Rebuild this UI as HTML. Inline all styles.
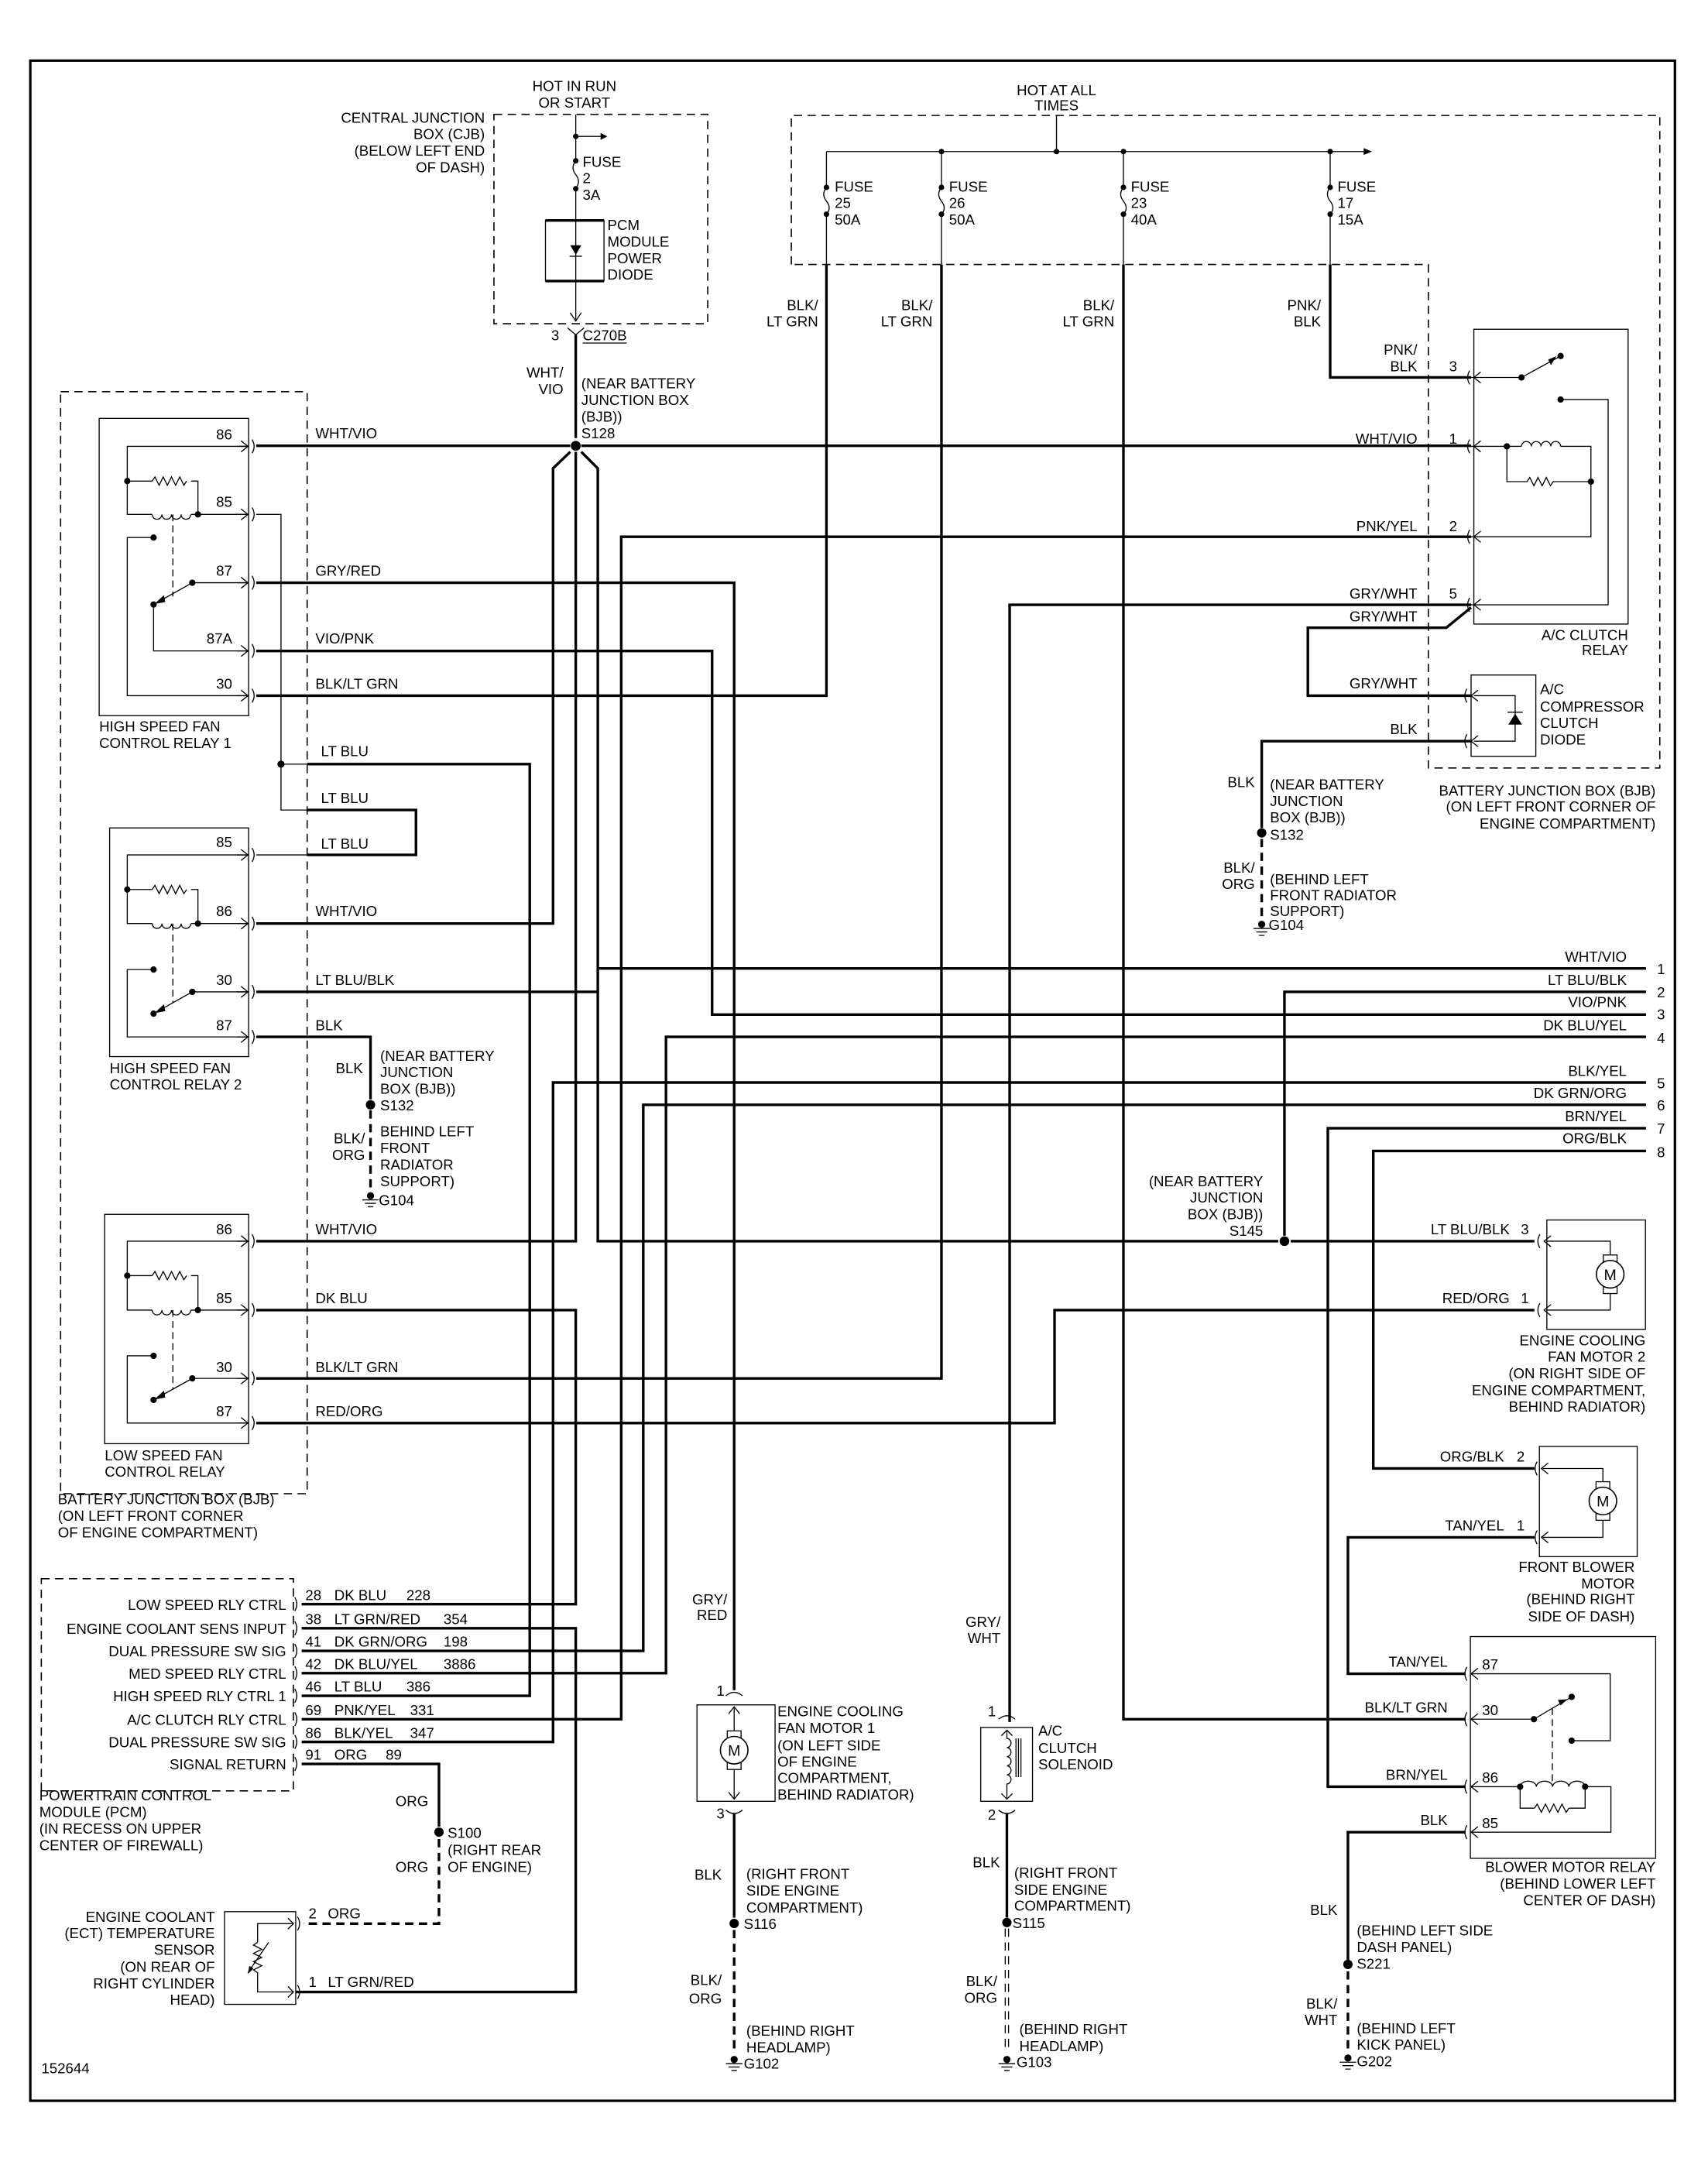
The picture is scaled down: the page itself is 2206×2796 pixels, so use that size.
<!DOCTYPE html>
<html><head><meta charset="utf-8"><style>
html,body{margin:0;padding:0;background:#fff}
svg{display:block}
text{font-family:"Liberation Sans",Arial,sans-serif;font-size:10.5px;fill:#000}
.e{text-anchor:end}.m{text-anchor:middle}
.k{fill:none;stroke:#000;stroke-width:1.9}
.n{fill:none;stroke:#000;stroke-width:0.75}
.d{fill:none;stroke:#000;stroke-width:0.9;stroke-dasharray:6,4}
.dk{fill:none;stroke:#000;stroke-width:1.9;stroke-dasharray:6,4}
.f{fill:#000}
</style></head><body>
<svg width="2206" height="2796" viewBox="0 0 1240 1571.6" xmlns="http://www.w3.org/2000/svg">
<defs>
<g id="ar"><polyline class="n" points="-5,-4 0,0 -5,4"/><path class="n" d="M0,0H-8"/><path class="n" d="M3,-5 q3,5 0,10"/></g>
<g id="al"><polyline class="n" points="5,-4 0,0 5,4"/><path class="n" d="M-3,-5 q-3,5 0,10"/></g>
<g id="gnd"><circle cx="0" cy="-3" r="2.6" class="f"/><path class="n" d="M-6,0H6M-4,2.5H4M-2,5H2"/></g>
<g id="mot"><rect x="-5" y="-14" width="10" height="28" fill="#fff" stroke="#000" stroke-width="0.75"/><circle cx="0" cy="0" r="10" fill="#fff" stroke="#000" stroke-width="0.9"/><text x="0" y="4" class="m" style="font-size:11px">M</text></g>
</defs>

<rect x="22" y="44" width="1194" height="1481" fill="none" stroke="#000" stroke-width="1.8"/>

<text x="417" y="66" class="m">HOT IN RUN</text><text x="417" y="78" class="m">OR START</text>
<text x="352" y="89" class="e">CENTRAL JUNCTION</text><text x="352" y="101" class="e">BOX (CJB)</text>
<text x="352" y="113" class="e">(BELOW LEFT END</text><text x="352" y="125" class="e">OF DASH)</text>
<rect x="358.6" y="83" width="155.2" height="152" class="d"/>
<path class="n" d="M418,83V116.7M418,137V232"/>
<circle cx="418" cy="99" r="2" class="f"/><path class="n" d="M418,99H436"/><polygon points="436,96.5 441,99 436,101.5" class="f"/>
<circle cx="418" cy="116.7" r="2" class="f"/><circle cx="418" cy="137" r="2" class="f"/>
<path class="n" d="M418,116.7 q-4,5 0,10 q4,5 0,10"/>
<text x="423" y="121">FUSE</text><text x="423" y="133">2</text><text x="423" y="145">3A</text>
<rect x="396" y="160" width="42.5" height="44" class="n"/><path class="k" d="M396,160H438.5M396,204H438.5"/>
<polygon points="414,178 422,178 418,185" class="f"/><path class="n" d="M413.5,186H422.5"/>
<text x="441" y="167">PCM</text><text x="441" y="179">MODULE</text><text x="441" y="191">POWER</text><text x="441" y="203">DIODE</text>
<polyline class="n" points="414,227 418,233 422,227"/>
<path class="n" d="M412,238 L418,243 L424,238"/>
<text x="406" y="247" class="e">3</text><text x="423" y="247">C270B</text><path class="n" d="M423,249H455"/>
<path class="k" d="M418,243V318"/>
<text x="409" y="274" class="e">WHT/</text><text x="409" y="286" class="e">VIO</text>
<text x="422" y="282">(NEAR BATTERY</text><text x="422" y="294">JUNCTION BOX</text><text x="422" y="306">(BJB))</text><text x="422" y="318">S128</text>
<circle cx="418" cy="323.6" r="3.6" class="f"/>

<text x="767" y="69" class="m">HOT AT ALL</text><text x="767" y="80" class="m">TIMES</text>
<path class="d" d="M574.5,192V83.8H1205V557.5H1037V192H574.5"/>
<path class="n" d="M767,83.8V110M600,110H990M600,110V136"/>
<polygon points="990,107.5 996,110 990,112.5" class="f"/>
<g>
<circle cx="683.5" cy="110" r="2" class="f"/><circle cx="767" cy="110" r="2" class="f"/><circle cx="815.6" cy="110" r="2" class="f"/><circle cx="965.7" cy="110" r="2" class="f"/>
</g>
<g>
<path class="n" d="M683.5,110V136M815.6,110V136M965.7,110V136"/>
<path class="n" d="M600,136 q-4,5 0,10 q4,5 0,9.5 V192M683.5,136 q-4,5 0,10 q4,5 0,9.5 V192M815.6,136 q-4,5 0,10 q4,5 0,9.5 V192M965.7,136 q-4,5 0,10 q4,5 0,9.5 V192"/>
<circle cx="600" cy="136" r="2" class="f"/><circle cx="600" cy="155.5" r="2" class="f"/>
<circle cx="683.5" cy="136" r="2" class="f"/><circle cx="683.5" cy="155.5" r="2" class="f"/>
<circle cx="815.6" cy="136" r="2" class="f"/><circle cx="815.6" cy="155.5" r="2" class="f"/>
<circle cx="965.7" cy="136" r="2" class="f"/><circle cx="965.7" cy="155.5" r="2" class="f"/>
<text x="606" y="139">FUSE</text><text x="606" y="151">25</text><text x="606" y="163">50A</text>
<text x="689" y="139">FUSE</text><text x="689" y="151">26</text><text x="689" y="163">50A</text>
<text x="821" y="139">FUSE</text><text x="821" y="151">23</text><text x="821" y="163">40A</text>
<text x="971" y="139">FUSE</text><text x="971" y="151">17</text><text x="971" y="163">15A</text>
<text x="594" y="225" class="e">BLK/</text><text x="594" y="237" class="e">LT GRN</text>
<text x="677" y="225" class="e">BLK/</text><text x="677" y="237" class="e">LT GRN</text>
<text x="809" y="225" class="e">BLK/</text><text x="809" y="237" class="e">LT GRN</text>
<text x="959" y="225" class="e">PNK/</text><text x="959" y="237" class="e">BLK</text>
</g>

<rect x="44" y="284.3" width="179" height="800" class="d"/>
<text x="42" y="1092">BATTERY JUNCTION BOX (BJB)</text><text x="42" y="1104">(ON LEFT FRONT CORNER</text><text x="42" y="1116">OF ENGINE COMPARTMENT)</text>

<rect x="72" y="303.7" width="108.5" height="215.8" class="n"/>
<path class="n" d="M180,324H92.4V373.4H110.5M138.7,373.4H180M92.4,349.2H110.5M138.7,349.2H143.7V373.4"/>
<path class="n" d="M110.5,373.4 a3.5,3.5 0 0 0 7,0 a3.5,3.5 0 0 0 7,0 a3.5,3.5 0 0 0 7,0 a3.5,3.5 0 0 0 7,0"/>
<path class="n" d="M110.5,349.2 l2,-3 l3,6 l3,-6 l3,6 l3,-6 l3,6 l3,-6 l3,6 l2,-3"/>
<circle cx="92.4" cy="349.2" r="2.3" class="f"/><circle cx="143.7" cy="373.4" r="2.3" class="f"/>
<path class="n" d="M125.5,373.4V433" stroke-dasharray="5,3"/>
<circle cx="111.5" cy="390.2" r="2.3" class="f"/><path class="n" d="M111.5,390.2H92.4V505H180"/>
<circle cx="139.6" cy="423" r="2.3" class="f"/><path class="n" d="M139.6,423H180M139.6,423L111.5,438.8V472.5H180"/>
<circle cx="111.5" cy="438.8" r="2.3" class="f"/><polygon points="112,438.5 119,432 120,437" class="f"/>
<use href="#ar" x="180" y="324"/><use href="#ar" x="180" y="373.4"/><use href="#ar" x="180" y="423"/><use href="#ar" x="180" y="472.5"/><use href="#ar" x="180" y="505"/>
<text x="168.6" y="319" class="e">86</text><text x="168.6" y="368" class="e">85</text><text x="168.6" y="418" class="e">87</text><text x="168.6" y="467" class="e">87A</text><text x="168.6" y="500" class="e">30</text>
<text x="72" y="531">HIGH SPEED FAN</text><text x="72" y="543">CONTROL RELAY 1</text>

<rect x="79.6" y="601" width="100.9" height="166" class="n"/>
<path class="n" d="M180,620.6H92.4V670.4H110.5M138.7,670.4H180M92.4,645.7H110.5M138.7,645.7H143.7V670.4"/>
<path class="n" d="M110.5,670.4 a3.5,3.5 0 0 0 7,0 a3.5,3.5 0 0 0 7,0 a3.5,3.5 0 0 0 7,0 a3.5,3.5 0 0 0 7,0"/>
<path class="n" d="M110.5,645.7 l2,-3 l3,6 l3,-6 l3,6 l3,-6 l3,6 l3,-6 l3,6 l2,-3"/>
<circle cx="92.4" cy="645.7" r="2.3" class="f"/><circle cx="143.7" cy="670.4" r="2.3" class="f"/>
<path class="n" d="M125.5,670.4V728" stroke-dasharray="5,3"/>
<circle cx="111.5" cy="703.8" r="2.3" class="f"/><path class="n" d="M111.5,703.8H92.4V752.7H180"/>
<circle cx="139.6" cy="720" r="2.3" class="f"/><path class="n" d="M139.6,720H180M139.6,720L111.5,735.8"/>
<circle cx="111.5" cy="735.8" r="2.3" class="f"/><polygon points="112,735.5 119,729 120,734" class="f"/>
<use href="#ar" x="180" y="620.6"/><use href="#ar" x="180" y="670.4"/><use href="#ar" x="180" y="720"/><use href="#ar" x="180" y="752.7"/>
<text x="168.6" y="615" class="e">85</text><text x="168.6" y="665" class="e">86</text><text x="168.6" y="715" class="e">30</text><text x="168.6" y="748" class="e">87</text>
<text x="79.6" y="779">HIGH SPEED FAN</text><text x="79.6" y="791">CONTROL RELAY 2</text>

<rect x="76" y="881.5" width="104.5" height="166.5" class="n"/>
<path class="n" d="M180,901H92.4V951H110.5M138.7,951H180M92.4,926H110.5M138.7,926H143.7V951"/>
<path class="n" d="M110.5,951 a3.5,3.5 0 0 0 7,0 a3.5,3.5 0 0 0 7,0 a3.5,3.5 0 0 0 7,0 a3.5,3.5 0 0 0 7,0"/>
<path class="n" d="M110.5,926 l2,-3 l3,6 l3,-6 l3,6 l3,-6 l3,6 l3,-6 l3,6 l2,-3"/>
<circle cx="92.4" cy="926" r="2.3" class="f"/><circle cx="143.7" cy="951" r="2.3" class="f"/>
<path class="n" d="M125.5,951V1008" stroke-dasharray="5,3"/>
<circle cx="111.5" cy="984.2" r="2.3" class="f"/><path class="n" d="M111.5,984.2H92.4V1033H180"/>
<circle cx="139.6" cy="1000.6" r="2.3" class="f"/><path class="n" d="M139.6,1000.6H180M139.6,1000.6L111.5,1016.2"/>
<circle cx="111.5" cy="1016.2" r="2.3" class="f"/><polygon points="112,1016 119,1009.5 120,1014.5" class="f"/>
<use href="#ar" x="180" y="901"/><use href="#ar" x="180" y="951"/><use href="#ar" x="180" y="1000.6"/><use href="#ar" x="180" y="1033"/>
<text x="168.6" y="896" class="e">86</text><text x="168.6" y="946" class="e">85</text><text x="168.6" y="996" class="e">30</text><text x="168.6" y="1028" class="e">87</text>
<text x="76" y="1060">LOW SPEED FAN</text><text x="76" y="1072">CONTROL RELAY</text>

<text x="229" y="318">WHT/VIO</text><text x="229" y="418">GRY/RED</text><text x="229" y="467">VIO/PNK</text><text x="229" y="500">BLK/LT GRN</text>
<text x="233" y="549">LT BLU</text><text x="233" y="583">LT BLU</text><text x="233" y="616">LT BLU</text>
<text x="229" y="665">WHT/VIO</text><text x="229" y="715">LT BLU/BLK</text><text x="229" y="748">BLK</text>
<text x="229" y="896">WHT/VIO</text><text x="229" y="946">DK BLU</text><text x="229" y="996">BLK/LT GRN</text><text x="229" y="1028">RED/ORG</text>

<path class="n" d="M186,373.4H204V588H223M204,554.7H223M186,620.6H223"/>
<circle cx="204" cy="554.7" r="2.6" class="f"/>

<g class="k">
<path d="M186,323.6H414M422,323.6H1068"/>
<path d="M414,328L401.5,340V670.4H186"/>
<path d="M418,328V901H186"/>
<path d="M422,328L434,340V901H928M937,901H1114"/>
<path d="M434,703H1195"/>
<path d="M186,720H434"/>
<path d="M223,554.7H384.6V1231H219"/>
<path d="M223,588H302V620.6H223"/>
<path d="M186,423H533V1227"/>
<path d="M186,472.5H517V736.5H1195"/>
<path d="M186,505H600V192"/>
<path d="M186,951H418V1164.5H219"/>
<path d="M219,1182H418V1446H215"/>
<path d="M1195,785.8H401.5V1264.5H219"/>
<path d="M1195,802H467V1198.4H219"/>
<path d="M1195,752.7H483.5V1214.6H219"/>
<path d="M1068,389.6H451V1248H219"/>
<path d="M186,1000.6H683.5V192"/>
<path d="M186,1033H765.6V951H1114"/>
<path d="M1068,439H733V1250"/>
<path d="M815.6,192V1248H1064"/>
<path d="M1195,720H932.5V897"/>
<path d="M965.7,192V274H1068"/>
<path d="M1068,441L1050,455.7H949.5V505H1068"/>
<path d="M1068,538H916V601"/>
<path d="M1195,819H964V1297H1064"/>
<path d="M1195,835.5H997V1066H1114"/>
<path d="M1114,1116H978.6V1215H1064"/>
<path d="M1064,1330H978.6V1426"/>
<path d="M186,752.7H269V798"/>
<path d="M219,1280.5H318.7V1326"/>
<path d="M533,1316V1392M731,1316V1392"/>
</g>
<circle cx="932.5" cy="901" r="3.5" class="f"/>

<text x="1181" y="698" class="e">WHT/VIO</text><text x="1203" y="707">1</text>
<text x="1181" y="715" class="e">LT BLU/BLK</text><text x="1203" y="724">2</text>
<text x="1181" y="731" class="e">VIO/PNK</text><text x="1203" y="740">3</text>
<text x="1181" y="748" class="e">DK BLU/YEL</text><text x="1203" y="757">4</text>
<text x="1181" y="781" class="e">BLK/YEL</text><text x="1203" y="790">5</text>
<text x="1181" y="797" class="e">DK GRN/ORG</text><text x="1203" y="806">6</text>
<text x="1181" y="814" class="e">BRN/YEL</text><text x="1203" y="823">7</text>
<text x="1181" y="830" class="e">ORG/BLK</text><text x="1203" y="840">8</text>

<circle cx="269" cy="802" r="3.4" class="f"/>
<path class="dk" d="M269,806V866" stroke-width="1.4" stroke-dasharray="4,3"/>
<use href="#gnd" x="269" y="871"/>
<text x="263.5" y="779" class="e">BLK</text>
<text x="276" y="770">(NEAR BATTERY</text><text x="276" y="782">JUNCTION</text><text x="276" y="794">BOX (BJB))</text><text x="276" y="806">S132</text>
<text x="265" y="830" class="e">BLK/</text><text x="265" y="842" class="e">ORG</text>
<text x="276" y="825">BEHIND LEFT</text><text x="276" y="837">FRONT</text><text x="276" y="849">RADIATOR</text><text x="276" y="861">SUPPORT)</text><text x="275" y="875">G104</text>

<rect x="1070" y="239" width="112" height="214" class="n"/>
<path class="n" d="M1068,274H1104.6L1133,258.4M1133,290H1167.5V439H1068"/>
<circle cx="1104.6" cy="274" r="2.3" class="f"/><circle cx="1133" cy="258.4" r="2.3" class="f"/><circle cx="1133" cy="290" r="2.3" class="f"/>
<polygon points="1130,258.5 1124,261 1126,265" class="f"/>
<path class="n" d="M1068,324H1104.6M1133,324H1155V389.6H1068M1094,324V349.6H1104.6M1133,349.6H1155"/>
<path class="n" d="M1104.6,324 a3.55,3.5 0 0 1 7.1,0 a3.55,3.5 0 0 1 7.1,0 a3.55,3.5 0 0 1 7.1,0 a3.55,3.5 0 0 1 7.1,0"/>
<path class="n" d="M1104.6,349.6 l4,0 l2,-3 l3,6 l3,-6 l3,6 l3,-6 l3,6 l2,-3 l5.4,0"/>
<circle cx="1094" cy="324" r="2.3" class="f"/><circle cx="1155" cy="349.6" r="2.3" class="f"/>
<use href="#al" x="1070" y="274"/><use href="#al" x="1070" y="324"/><use href="#al" x="1070" y="389.6"/><use href="#al" x="1070" y="439"/>
<text x="1182" y="464.5" class="e">A/C CLUTCH</text><text x="1182" y="475.5" class="e">RELAY</text>
<text x="1029" y="257.5" class="e">PNK/</text><text x="1029" y="269.5" class="e">BLK</text><text x="1055" y="269.5" class="m">3</text>
<text x="1029" y="322" class="e">WHT/VIO</text><text x="1055" y="322" class="m">1</text>
<text x="1029" y="385.5" class="e">PNK/YEL</text><text x="1055" y="385.5" class="m">2</text>
<text x="1029" y="434.6" class="e">GRY/WHT</text><text x="1055" y="434.6" class="m">5</text>
<text x="1029" y="451" class="e">GRY/WHT</text>
<text x="1029" y="499.8" class="e">GRY/WHT</text>
<text x="1029" y="532.8" class="e">BLK</text>
<rect x="1068" y="490" width="47" height="59" class="n"/>
<path class="n" d="M1070,505H1100V538H1070"/>
<polygon points="1095,526 1105,526 1100,518" class="f"/><path class="n" d="M1094.5,517H1105.5"/>
<use href="#al" x="1068" y="505"/><use href="#al" x="1068" y="538"/>
<text x="1118" y="504">A/C</text><text x="1118" y="516.5">COMPRESSOR</text><text x="1118" y="528.5">CLUTCH</text><text x="1118" y="540.5">DIODE</text>
<text x="1202" y="577.5" class="e">BATTERY JUNCTION BOX (BJB)</text><text x="1202" y="589" class="e">(ON LEFT FRONT CORNER OF</text><text x="1202" y="601.4" class="e">ENGINE COMPARTMENT)</text>
<circle cx="916" cy="604.6" r="3.4" class="f"/>
<path class="dk" d="M916,609V666" stroke-width="1.4" stroke-dasharray="4,3"/>
<use href="#gnd" x="916" y="674"/>
<text x="911" y="571.5" class="e">BLK</text>
<text x="922" y="573">(NEAR BATTERY</text><text x="922" y="585">JUNCTION</text><text x="922" y="597">BOX (BJB))</text><text x="922" y="609.7">S132</text>
<text x="911" y="633.6" class="e">BLK/</text><text x="911" y="645.4" class="e">ORG</text>
<text x="922" y="642">(BEHIND LEFT</text><text x="922" y="653.5">FRONT RADIATOR</text><text x="922" y="665">SUPPORT)</text><text x="921" y="675">G104</text>

<text x="917" y="861" class="e">(NEAR BATTERY</text><text x="917" y="873" class="e">JUNCTION</text><text x="917" y="885" class="e">BOX (BJB))</text><text x="917" y="897" class="e">S145</text>
<rect x="1123" y="885.6" width="71.6" height="79.4" class="n"/>
<path class="n" d="M1123,901H1169V951H1123"/>
<use href="#mot" x="1169" y="925"/>
<use href="#al" x="1121" y="901"/><use href="#al" x="1121" y="951"/>
<text x="1096" y="896" class="e">LT BLU/BLK</text><text x="1107" y="896" class="m">3</text>
<text x="1096" y="946" class="e">RED/ORG</text><text x="1107" y="946" class="m">1</text>
<text x="1194.6" y="976.5" class="e">ENGINE COOLING</text><text x="1194.6" y="988.5" class="e">FAN MOTOR 2</text><text x="1194.6" y="1000.5" class="e">(ON RIGHT SIDE OF</text><text x="1194.6" y="1012.8" class="e">ENGINE COMPARTMENT,</text><text x="1194.6" y="1024.8" class="e">BEHIND RADIATOR)</text>

<rect x="1117.6" y="1050" width="71" height="80" class="n"/>
<path class="n" d="M1120,1066H1163.7V1116H1120"/>
<use href="#mot" x="1163.7" y="1089.6"/>
<use href="#al" x="1119" y="1066"/><use href="#al" x="1119" y="1116"/>
<text x="1092" y="1061" class="e">ORG/BLK</text><text x="1104" y="1061" class="m">2</text>
<text x="1092" y="1111" class="e">TAN/YEL</text><text x="1104" y="1111" class="m">1</text>
<text x="1186.8" y="1141" class="e">FRONT BLOWER</text><text x="1186.8" y="1153" class="e">MOTOR</text><text x="1186.8" y="1164.5" class="e">(BEHIND RIGHT</text><text x="1186.8" y="1177" class="e">SIDE OF DASH)</text>

<rect x="1067.5" y="1188" width="134.5" height="161" class="n"/>
<path class="n" d="M1068,1215H1169V1263.6H1141M1068,1248H1113.6L1141,1231.8M1068,1297H1103.6M1150.8,1297H1169.5V1330H1068M1103.6,1297V1312.6H1114M1139,1312.6H1150.8V1297"/>
<path class="n" d="M1114,1312.6 l2,-3 l3,6 l3,-6 l3,6 l3,-6 l3,6 l3,-6 l3,6 l2,-3"/>
<path class="n" d="M1103.6,1297 a5.9,4 0 0 1 11.8,0 a5.9,4 0 0 1 11.8,0 a5.9,4 0 0 1 11.8,0 a5.9,4 0 0 1 11.8,0"/>
<path class="n" d="M1127,1240V1294" stroke-dasharray="5,3"/>
<circle cx="1141" cy="1263.6" r="2.3" class="f"/><circle cx="1113.6" cy="1248" r="2.3" class="f"/><circle cx="1141" cy="1231.8" r="2.3" class="f"/>
<circle cx="1103.6" cy="1297" r="2.3" class="f"/><circle cx="1150.8" cy="1297" r="2.3" class="f"/>
<polygon points="1138,1233.5 1131,1234 1133,1238" class="f"/>
<use href="#al" x="1068" y="1215"/><use href="#al" x="1068" y="1248"/><use href="#al" x="1068" y="1297"/><use href="#al" x="1068" y="1330"/>
<text x="1076" y="1212">87</text><text x="1076" y="1245">30</text><text x="1076" y="1294">86</text><text x="1076" y="1327">85</text>
<text x="1051" y="1210" class="e">TAN/YEL</text><text x="1051" y="1243" class="e">BLK/LT GRN</text><text x="1051" y="1292" class="e">BRN/YEL</text><text x="1051" y="1325" class="e">BLK</text>
<text x="1202" y="1359" class="e">BLOWER MOTOR RELAY</text><text x="1202" y="1371" class="e">(BEHIND LOWER LEFT</text><text x="1202" y="1383" class="e">CENTER OF DASH)</text>
<circle cx="978.6" cy="1426" r="3.4" class="f"/>
<path class="dk" d="M978.6,1431V1491" stroke-width="1.8" stroke-dasharray="6,4"/>
<use href="#gnd" x="978.6" y="1497"/>
<text x="971" y="1390" class="e">BLK</text>
<text x="985" y="1405">(BEHIND LEFT SIDE</text><text x="985" y="1417">DASH PANEL)</text><text x="985" y="1429">S221</text>
<text x="971" y="1458" class="e">BLK/</text><text x="971" y="1470" class="e">WHT</text>
<text x="985" y="1476">(BEHIND LEFT</text><text x="985" y="1488">KICK PANEL)</text><text x="985" y="1500">G202</text>

<rect x="506" y="1237.6" width="56.7" height="70" class="n"/>
<path class="n" d="M527,1231 q6,-5 12,0M527,1314 q6,5 12,0"/>
<path class="n" d="M533,1239V1306"/>
<polyline class="n" points="529,1244 533,1239 537,1244"/><polyline class="n" points="529,1301 533,1306 537,1301"/>
<use href="#mot" x="533" y="1270.5"/>
<text x="526" y="1231" class="e">1</text><text x="526" y="1320" class="e">3</text>
<text x="528" y="1164.6" class="e">GRY/</text><text x="528" y="1176" class="e">RED</text>
<text x="564.4" y="1246">ENGINE COOLING</text><text x="564.4" y="1258">FAN MOTOR 1</text><text x="564.4" y="1270.5">(ON LEFT SIDE</text><text x="564.4" y="1282.3">OF ENGINE</text><text x="564.4" y="1294.3">COMPARTMENT,</text><text x="564.4" y="1306.4">BEHIND RADIATOR)</text>
<circle cx="533" cy="1396.3" r="3.4" class="f"/>
<path class="dk" d="M533,1401V1489" stroke-width="1.8"/>
<use href="#gnd" x="533" y="1498"/>
<text x="524" y="1364.6" class="e">BLK</text>
<text x="541.8" y="1364">(RIGHT FRONT</text><text x="541.8" y="1376">SIDE ENGINE</text><text x="541.8" y="1388.4">COMPARTMENT)</text><text x="540" y="1400.3">S116</text>
<text x="524" y="1441" class="e">BLK/</text><text x="524" y="1454.5" class="e">ORG</text>
<text x="541.8" y="1477.8">(BEHIND RIGHT</text><text x="541.8" y="1489.7">HEADLAMP)</text><text x="540" y="1501.7">G102</text>

<rect x="712" y="1254" width="37.6" height="53.6" class="n"/>
<path class="n" d="M725,1248 q6,-5 12,0M725,1314 q6,5 12,0"/>
<path class="n" d="M731,1256V1262 a3,3.3 0 0 1 0,6.6 a3,3.3 0 0 1 0,6.6 a3,3.3 0 0 1 0,6.6 a3,3.3 0 0 1 0,6.6 a3,3.3 0 0 1 0,6.6 V1306"/>
<path class="n" d="M737.6,1262V1290M739.4,1262V1290M741.2,1262V1290"/>
<polyline class="n" points="727,1260 731,1256 735,1260"/><polyline class="n" points="727,1302 731,1306 735,1302"/>
<text x="723" y="1246" class="e">1</text><text x="723" y="1321" class="e">2</text>
<text x="726.4" y="1181" class="e">GRY/</text><text x="726.4" y="1192.7" class="e">WHT</text>
<text x="753.8" y="1260">A/C</text><text x="753.8" y="1272.5">CLUTCH</text><text x="753.8" y="1284.3">SOLENOID</text>
<circle cx="731" cy="1395.6" r="3.4" class="f"/>
<path class="n" d="M729.8,1400V1490M732.2,1400V1490" stroke-dasharray="6,4"/>
<use href="#gnd" x="731" y="1498"/>
<text x="726" y="1355.4" class="e">BLK</text>
<text x="736.3" y="1363">(RIGHT FRONT</text><text x="736.3" y="1375.4">SIDE ENGINE</text><text x="736.3" y="1387">COMPARTMENT)</text><text x="735" y="1399.6">S115</text>
<text x="724" y="1441.7" class="e">BLK/</text><text x="724" y="1454" class="e">ORG</text>
<text x="740" y="1476.6">(BEHIND RIGHT</text><text x="740" y="1489">HEADLAMP)</text><text x="738" y="1500.4">G103</text>

<rect x="30" y="1146" width="183" height="154" class="d"/>
<g>
<text x="207.8" y="1168.5" class="e">LOW SPEED RLY CTRL</text>
<text x="207.8" y="1186" class="e">ENGINE COOLANT SENS INPUT</text>
<text x="207.8" y="1202.4" class="e">DUAL PRESSURE SW SIG</text>
<text x="207.8" y="1218.6" class="e">MED SPEED RLY CTRL</text>
<text x="207.8" y="1235" class="e">HIGH SPEED RLY CTRL 1</text>
<text x="207.8" y="1252" class="e">A/C CLUTCH RLY CTRL</text>
<text x="207.8" y="1268.5" class="e">DUAL PRESSURE SW SIG</text>
<text x="207.8" y="1284.5" class="e">SIGNAL RETURN</text>
</g>
<g>
<path class="n" d="M214,1159.5 q3,5 0,10M214,1177 q3,5 0,10M214,1193.4 q3,5 0,10M214,1209.6 q3,5 0,10M214,1226 q3,5 0,10M214,1243 q3,5 0,10M214,1259.5 q3,5 0,10M214,1275.5 q3,5 0,10"/>
<text x="221.7" y="1161.5">28</text><text x="242.7" y="1161.5">DK BLU</text><text x="295" y="1161.5">228</text>
<text x="221.7" y="1179">38</text><text x="242.7" y="1179">LT GRN/RED</text><text x="322" y="1179">354</text>
<text x="221.7" y="1195.4">41</text><text x="242.7" y="1195.4">DK GRN/ORG</text><text x="322" y="1195.4">198</text>
<text x="221.7" y="1211.6">42</text><text x="242.7" y="1211.6">DK BLU/YEL</text><text x="322" y="1211.6">3886</text>
<text x="221.7" y="1228">46</text><text x="242.7" y="1228">LT BLU</text><text x="295" y="1228">386</text>
<text x="221.7" y="1245">69</text><text x="242.7" y="1245">PNK/YEL</text><text x="297.7" y="1245">331</text>
<text x="221.7" y="1261.5">86</text><text x="242.7" y="1261.5">BLK/YEL</text><text x="297.7" y="1261.5">347</text>
<text x="221.7" y="1277.5">91</text><text x="242.7" y="1277.5">ORG</text><text x="280" y="1277.5">89</text>
</g>
<text x="28.5" y="1307">POWERTRAIN CONTROL</text><text x="28.5" y="1319">MODULE (PCM)</text><text x="28.5" y="1331">(IN RECESS ON UPPER</text><text x="28.5" y="1343">CENTER OF FIREWALL)</text>
<circle cx="318.7" cy="1330" r="3.4" class="f"/>
<path class="dk" d="M318.7,1335V1396.4H220" stroke-width="1.6"/>
<text x="311" y="1311" class="e">ORG</text><text x="311" y="1359" class="e">ORG</text>
<text x="325" y="1334">S100</text><text x="325" y="1346.5">(RIGHT REAR</text><text x="325" y="1359">OF ENGINE)</text>
<rect x="163" y="1387.7" width="51.7" height="67.3" class="n"/>
<path class="n" d="M213,1396.4H187V1410M187,1433V1446H213"/>
<path class="n" d="M187,1410 l-3,2 l6,3 l-6,3 l6,3 l-6,3 l6,3 l-6,3 l3,2 V1433"/>
<path class="n" d="M180,1432 L195,1410"/><polygon points="180,1433 181,1427 184,1429" class="f"/>
<polyline class="n" points="209,1392.4 213,1396.4 209,1400.4"/><polyline class="n" points="209,1442 213,1446 209,1450"/>
<path class="n" d="M216,1391.4 q3,5 0,10M216,1441 q3,5 0,10"/>
<text x="224" y="1392.5">2</text><text x="238" y="1392.5">ORG</text>
<text x="224" y="1442.3">1</text><text x="238" y="1442.3">LT GRN/RED</text>
<text x="156" y="1395" class="e">ENGINE COOLANT</text><text x="156" y="1407" class="e">(ECT) TEMPERATURE</text><text x="156" y="1419" class="e">SENSOR</text><text x="156" y="1431.5" class="e">(ON REAR OF</text><text x="156" y="1443.4" class="e">RIGHT CYLINDER</text><text x="156" y="1455.2" class="e">HEAD)</text>

<text x="30" y="1505">152644</text>
</svg>
</body></html>
